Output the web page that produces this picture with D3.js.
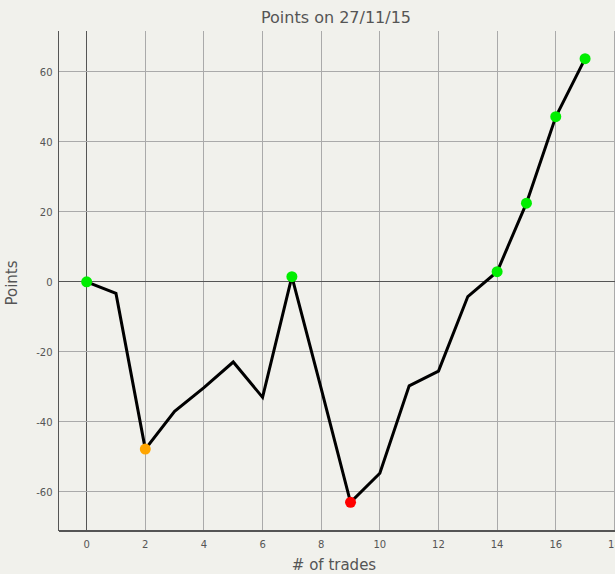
<!DOCTYPE html>
<html>
<head>
<meta charset="utf-8">
<script src="https://cdn.jsdelivr.net/npm/d3@7"></script>
<style>
html,body{margin:0;padding:0;background:#f1f1ec;}
svg{display:block;}
</style>
</head>
<body>
<svg id="chart" width="615" height="574"></svg>
<script>
const trades = [0,1,2,3,4,5,6,7,8,9,10,11,12,13,14,15,16,17];
const points = [0,-3.3,-47.8,-37.0,-30.2,-22.9,-33.0,1.5,-30.5,-63.0,-54.7,-29.7,-25.5,-4.2,2.9,22.5,47.2,63.8];
const markerIdx = [0,2,7,9,14,15,16,17];
const markerColors = ["#00ee00","#ffa500","#00ee00","#ff0000","#00ee00","#00ee00","#00ee00","#00ee00"];
const xTicks = [0,2,4,6,8,10,12,14,16,18];
const yTicks = [-60,-40,-20,0,20,40,60];
const title = "Points on 27/11/15";
const xLabel = "# of trades";
const yLabel = "Points";

const svg = d3.select("#chart");
const L = 58.5, T = 31, B = 531;
const x = d3.scaleLinear().domain([-0.96, 19]).range([L, L + 19.96*29.32]);
const y = d3.scaleLinear().domain([-71.2, 71.7]).range([B, T]);
const R = 640;
const font = "'DejaVu Sans', sans-serif";

// grid
svg.append("g").selectAll("line").data(xTicks).join("line")
  .attr("x1", d=>x(d)).attr("x2", d=>x(d)).attr("y1", T).attr("y2", B)
  .attr("stroke", d=> d===0 ? "#555" : "#aaa").attr("stroke-width",1).attr("shape-rendering","crispEdges");
svg.append("g").selectAll("line").data(yTicks).join("line")
  .attr("x1", L).attr("x2", R).attr("y1", d=>y(d)).attr("y2", d=>y(d))
  .attr("stroke", d=> d===0 ? "#555" : "#aaa").attr("stroke-width",1).attr("shape-rendering","crispEdges");

// axes lines
svg.append("line").attr("x1",L).attr("x2",L).attr("y1",T).attr("y2",B).attr("stroke","#555").attr("shape-rendering","crispEdges");
svg.append("line").attr("x1",L).attr("x2",R).attr("y1",B).attr("y2",B).attr("stroke","#555").attr("stroke-width",1.5).attr("shape-rendering","crispEdges");

// tick labels
svg.append("g").selectAll("text").data(xTicks).join("text")
  .attr("x", d=>x(d)).attr("y", B+17).attr("text-anchor","middle")
  .attr("font-family",font).attr("font-size",10).attr("fill","#555").text(d=>d);
svg.append("g").selectAll("text").data(yTicks).join("text")
  .attr("x", L-6).attr("y", d=>y(d)+4).attr("text-anchor","end")
  .attr("font-family",font).attr("font-size",10).attr("fill","#555").text(d=>d);

// titles
svg.append("text").attr("x",336).attr("y",23).attr("text-anchor","middle")
  .attr("font-family",font).attr("font-size",16).attr("fill","#555").text(title);
svg.append("text").attr("x",334).attr("y",570).attr("text-anchor","middle")
  .attr("font-family",font).attr("font-size",15).attr("fill","#555").text(xLabel);
svg.append("text").attr("transform","translate(17,283) rotate(-90)").attr("text-anchor","middle")
  .attr("font-family",font).attr("font-size",15).attr("fill","#555").text(yLabel);

// line
const data = trades.map((t,i)=>({t, v: points[i]}));
svg.append("path").datum(data)
  .attr("fill","none").attr("stroke","#000").attr("stroke-width",3).attr("stroke-linejoin","miter")
  .attr("d", d3.line().x(d=>x(d.t)).y(d=>y(d.v)));

// markers
svg.append("g").selectAll("circle").data(markerIdx).join("circle")
  .attr("cx", i=>x(trades[i])).attr("cy", i=>y(points[i])).attr("r",5.5)
  .attr("fill", (i,k)=>markerColors[k]);
</script>
</body>
</html>
